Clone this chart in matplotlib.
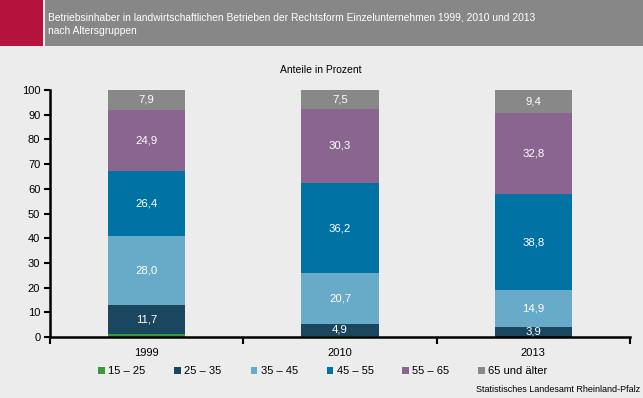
import matplotlib
matplotlib.use("Agg")
import matplotlib.pyplot as plt
from matplotlib.patches import Rectangle
import numpy as np

plt.rcParams['font.family'] = ['Liberation Sans', 'DejaVu Sans']

years = ["1999", "2010", "2013"]
groups = ["15 – 25", "25 – 35", "35 – 45", "45 – 55", "55 – 65", "65 und älter"]
v15_25 = [1.1, 0.4, 0.2]
v25_35 = [11.7, 4.9, 3.9]
v35_45 = [28.0, 20.7, 14.9]
v45_55 = [26.4, 36.2, 38.8]
v55_65 = [24.9, 30.3, 32.8]
v65 = [7.9, 7.5, 9.4]
series = [v15_25, v25_35, v35_45, v45_55, v55_65, v65]
colors = ["#349a3a", "#1b4660", "#67abc9", "#0072a3", "#8a6590", "#888888"]

bg = "#ebeceb"
fig = plt.figure(figsize=(6.43, 3.98), dpi=100, facecolor=bg)

# header
fig.patches.append(Rectangle((0, 352/398), 43/643, 46/398, transform=fig.transFigure,
                             facecolor="#b5123e", edgecolor="none", zorder=0))
fig.patches.append(Rectangle((45/643, 352/398), 598/643, 46/398, transform=fig.transFigure,
                             facecolor="#878787", edgecolor="none", zorder=0))
fig.text(48/643, 381/398, "Betriebsinhaber in landwirtschaftlichen Betrieben der Rechtsform Einzelunternehmen 1999, 2010 und 2013",
         color="white", fontsize=7.4, va="center", ha="left")
fig.text(48/643, 367/398, "nach Altersgruppen", color="white", fontsize=7.4, va="center", ha="left")
fig.text(321/643, 328/398, "Anteile in Prozent", fontsize=7.5, ha="center", va="center", color="black")

ax = fig.add_axes([50/643, 61/398, 580/643, 247/398])
ax.set_facecolor("none")
x = np.arange(len(years))
bottom = np.zeros(len(years))
for vals, col, name in zip(series, colors, groups):
    vals = np.array(vals)
    ax.bar(x, vals, width=0.4, bottom=bottom, color=col, label=name, zorder=2)
    if name != "15 – 25":
        for xi, b, v in zip(x, bottom, vals):
            ax.text(xi, b + v / 2, f"{v:.1f}".replace(".", ","), ha="center", va="center",
                    color="white", fontsize=8.2)
    bottom += vals

ax.set_xlim(-0.5, 2.5)
ax.set_ylim(0, 100)
ax.set_yticks(range(0, 101, 10))
ax.set_xticks(x)
ax.set_xticklabels(years)
ax.set_xticks([-0.5, 0.5, 1.5, 2.5], minor=True)
ax.tick_params(axis='x', which='major', length=0, pad=8, labelsize=8)
ax.tick_params(axis='x', which='minor', length=5, width=1.5, direction='out')
ax.tick_params(axis='y', length=4, width=1.5, direction='out', labelsize=8, pad=3)
for s in ["top", "right"]:
    ax.spines[s].set_visible(False)
for s in ["left", "bottom"]:
    ax.spines[s].set_linewidth(1.8)

leg = fig.legend(loc="center", bbox_to_anchor=(323/643, 27/398), ncol=6, frameon=False,
                 fontsize=8, handlelength=0.6, handleheight=0.6, handletextpad=0.3,
                 columnspacing=2.6)

fig.text(640/643, 9/398, "Statistisches Landesamt Rheinland-Pfalz", fontsize=6.5,
         ha="right", va="center")

fig.savefig("out.png", dpi=100, facecolor=bg)
